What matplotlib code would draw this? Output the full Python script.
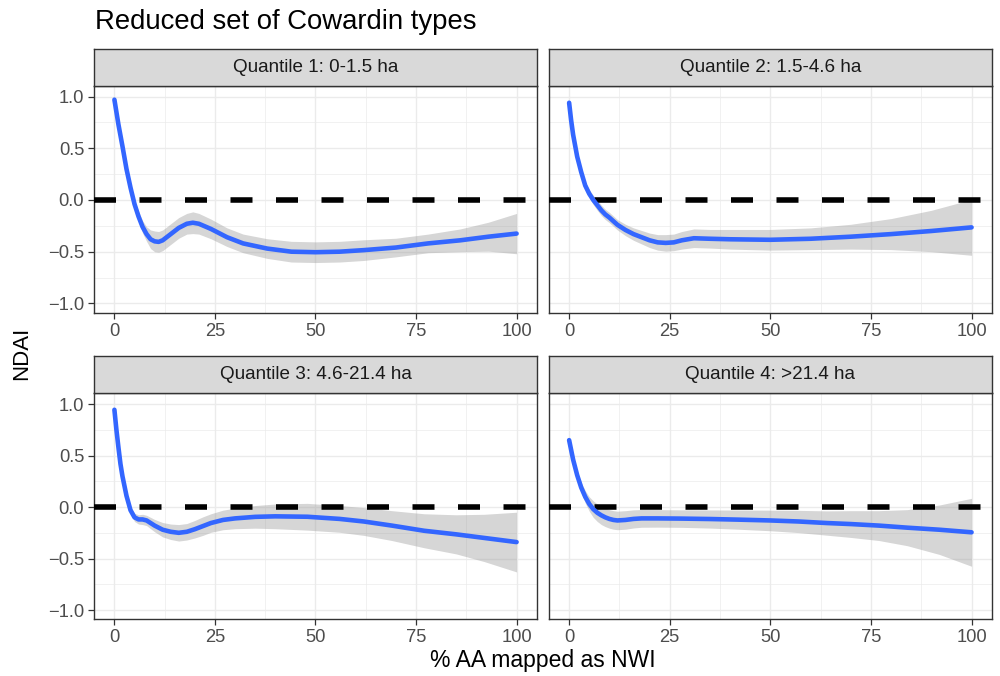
import matplotlib
matplotlib.use("Agg")
import matplotlib.pyplot as plt
import numpy as np

plt.rcParams['font.family'] = ['Liberation Sans', 'DejaVu Sans']

# ---------------- data ----------------
strip_titles = ["Quantile 1: 0-1.5 ha", "Quantile 2: 1.5-4.6 ha",
                "Quantile 3: 4.6-21.4 ha", "Quantile 4: >21.4 ha"]

x_ticks = [0, 25, 50, 75, 100]
x_tick_labels = ["0", "25", "50", "75", "100"]
y_ticks = [-1.0, -0.5, 0.0, 0.5, 1.0]
y_tick_labels = ["\u22121.0", "\u22120.5", "0.0", "0.5", "1.0"]

# Quantile 1
q1_x = [0, 1, 2, 3, 4, 5, 6, 7, 8, 9, 10, 11, 12, 14, 16, 18, 19.5, 21, 24, 28,
        32, 38, 44, 50, 56, 62, 70, 78, 86, 93, 100]
q1_y = [0.97, 0.73, 0.52, 0.30, 0.12, -0.04, -0.16, -0.26, -0.33, -0.38, -0.40,
        -0.405, -0.39, -0.33, -0.27, -0.23, -0.22, -0.23, -0.28, -0.36, -0.42,
        -0.47, -0.50, -0.505, -0.50, -0.485, -0.46, -0.42, -0.39, -0.355, -0.325]
q1_se = [0.03, 0.03, 0.03, 0.03, 0.035, 0.04, 0.05, 0.06, 0.07, 0.09, 0.10, 0.10,
         0.10, 0.10, 0.10, 0.10, 0.105, 0.10, 0.095, 0.09, 0.09, 0.095, 0.10, 0.10,
         0.10, 0.10, 0.09, 0.09, 0.11, 0.14, 0.195]

# Quantile 2
q2_x = [0, 0.5, 1, 2, 3, 4, 5, 6, 7, 8, 9, 10, 12, 14, 16, 18, 20, 22, 24, 26,
        28, 31, 35, 40, 50, 60, 70, 80, 90, 100]
q2_y = [0.94, 0.77, 0.63, 0.42, 0.27, 0.14, 0.06, 0.0, -0.05, -0.10, -0.14, -0.17,
        -0.24, -0.29, -0.33, -0.36, -0.39, -0.41, -0.415, -0.41, -0.39, -0.37,
        -0.375, -0.38, -0.385, -0.375, -0.355, -0.33, -0.30, -0.265]
q2_se = [0.03, 0.03, 0.03, 0.03, 0.03, 0.035, 0.04, 0.045, 0.05, 0.05, 0.05, 0.05,
         0.05, 0.055, 0.06, 0.065, 0.07, 0.075, 0.08, 0.08, 0.085, 0.09, 0.09,
         0.095, 0.10, 0.105, 0.12, 0.15, 0.20, 0.27]

# Quantile 3
q3_x = [0, 0.5, 1, 1.5, 2, 3, 4, 5, 6, 7, 8, 9, 10, 12, 14, 16, 18, 20, 22, 24,
        27, 30, 35, 40, 48, 56, 62, 69, 77, 85, 92, 100]
q3_y = [0.945, 0.75, 0.58, 0.42, 0.30, 0.11, -0.03, -0.10, -0.12, -0.12, -0.13,
        -0.155, -0.18, -0.22, -0.24, -0.25, -0.24, -0.215, -0.185, -0.155, -0.125,
        -0.11, -0.095, -0.09, -0.094, -0.115, -0.14, -0.18, -0.23, -0.265, -0.30,
        -0.34]
q3_se = [0.03, 0.03, 0.03, 0.03, 0.03, 0.03, 0.035, 0.04, 0.045, 0.05, 0.05, 0.055,
         0.06, 0.07, 0.075, 0.08, 0.08, 0.085, 0.09, 0.09, 0.095, 0.10, 0.11, 0.12,
         0.13, 0.13, 0.135, 0.145, 0.165, 0.19, 0.23, 0.29]

# Quantile 4
q4_x = [0, 1, 2, 3, 4, 5, 6, 7, 8, 9, 10, 11, 12, 14, 16, 18, 22, 28, 35, 42, 50,
        57, 64, 70, 77, 84, 92, 100]
q4_y = [0.65, 0.46, 0.31, 0.19, 0.10, 0.03, -0.02, -0.055, -0.08, -0.10, -0.115,
        -0.125, -0.13, -0.125, -0.115, -0.11, -0.11, -0.112, -0.116, -0.122, -0.13,
        -0.14, -0.155, -0.165, -0.18, -0.20, -0.22, -0.245]
q4_se = [0.03, 0.03, 0.04, 0.05, 0.06, 0.07, 0.08, 0.085, 0.09, 0.09, 0.09, 0.09,
         0.09, 0.09, 0.088, 0.086, 0.085, 0.085, 0.088, 0.093, 0.10, 0.108, 0.118,
         0.13, 0.145, 0.175, 0.24, 0.33]

panels = [(q1_x, q1_y, q1_se), (q2_x, q2_y, q2_se),
          (q3_x, q3_y, q3_se), (q4_x, q4_y, q4_se)]

# ---------------- layout ----------------
W, H = 1000, 676
fig = plt.figure(figsize=(W / 100, H / 100), dpi=100)


def px_axes(l, t, r, b):
    return fig.add_axes([l / W, 1 - b / H, (r - l) / W, (b - t) / H])


cols = [(94.3, 536.7), (549.0, 991.7)]
rows = [(85.7, 312.7), (393.3, 619.3)]
strip_h = 37.0

BORDER = '#333333'
for i, (xs, ys, se) in enumerate(panels):
    r, c = divmod(i, 2)
    l, rr = cols[c]
    t, b = rows[r]
    ax = px_axes(l, t, rr, b)
    xs = np.asarray(xs)
    ys = np.asarray(ys)
    se = np.asarray(se)
    ax.fill_between(xs, ys - se, ys + se, color='#999999', alpha=0.4, lw=0, zorder=2)
    ax.axhline(0, color='black', lw=4, dashes=(3.96, 4.23), solid_capstyle='butt',
               dash_capstyle='butt', zorder=3)
    ax.plot(xs, ys, color='#3366FF', lw=3.3, solid_capstyle='round', zorder=4)
    ax.set_xlim(-5, 105)
    ax.set_ylim(-1.09, 1.105)
    ax.set_xticks(x_ticks)
    ax.set_xticklabels(x_tick_labels)
    ax.set_yticks(y_ticks)
    ax.set_xticks([12.5, 37.5, 62.5, 87.5], minor=True)
    ax.set_yticks([-0.75, -0.25, 0.25, 0.75], minor=True)
    ax.grid(which='major', color='#EBEBEB', lw=1.0, zorder=0)
    ax.grid(which='minor', color='#EBEBEB', lw=0.5, zorder=0)
    ax.set_axisbelow(True)
    ax.tick_params(which='minor', length=0)
    ax.tick_params(which='major', direction='out', length=4.3, width=0.9,
                   color=BORDER, labelcolor='#4D4D4D', labelsize=13.2, pad=3)
    if c == 0:
        ax.set_yticklabels(y_tick_labels)
    else:
        ax.set_yticklabels([])
        ax.tick_params(axis='y', which='both', length=0, left=False)
    for s in ax.spines.values():
        s.set_color(BORDER)
        s.set_linewidth(1.0)
    # strip
    sax = px_axes(l, t - strip_h, rr, t)
    sax.set_facecolor('#D9D9D9')
    sax.set_xticks([])
    sax.set_yticks([])
    for s in sax.spines.values():
        s.set_color(BORDER)
        s.set_linewidth(1.0)
    sax.text(0.5, 0.5, strip_titles[i], transform=sax.transAxes, ha='center',
             va='center', fontsize=13.6, color='#1A1A1A')

fig.text(95 / W, 1 - 22 / H, "Reduced set of Cowardin types", ha='left',
         va='center', fontsize=19.8, color='black')
fig.text(22 / W, 1 - 353 / H, "NDAI", ha='center', va='center', rotation=90,
         fontsize=16, color='black')
fig.text(543 / W, 1 - 660 / H, "% AA mapped as NWI", ha='center', va='center',
         fontsize=16.5, color='black')

fig.savefig("out.png", dpi=100)
